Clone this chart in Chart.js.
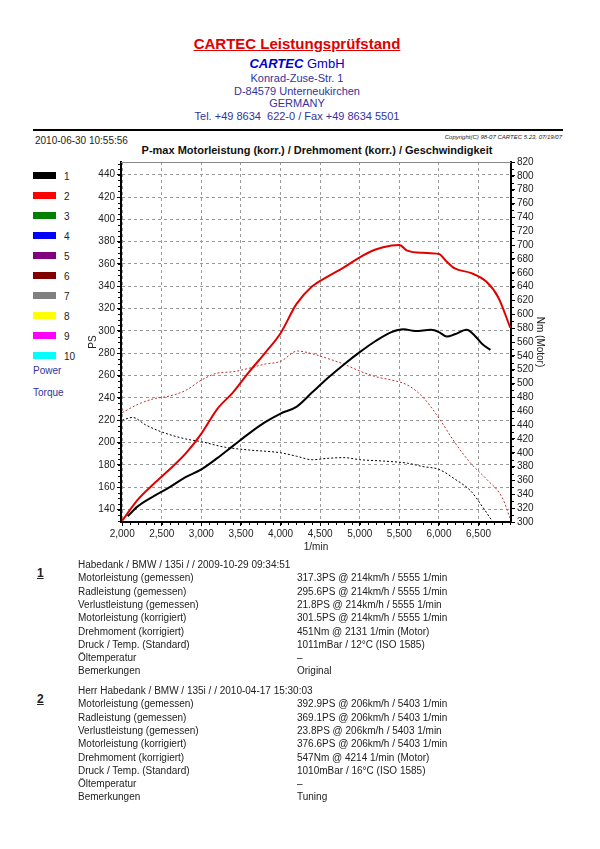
<!DOCTYPE html>
<html><head><meta charset="utf-8">
<script src="https://cdn.jsdelivr.net/npm/chart.js@4"></script>
<style>
html,body{margin:0;padding:0;background:#fff;}
body{width:600px;height:849px;position:relative;overflow:hidden;font-family:"Liberation Sans",Arial,sans-serif;color:#222;}
.a{position:absolute;white-space:nowrap;line-height:1;}
.c{left:0;width:594px;text-align:center;}
#wrap{position:absolute;left:0;top:150px;width:600px;height:410px;}
.lg{position:absolute;left:33px;width:23px;height:7px;}
.ln{position:absolute;left:64px;font-size:10px;color:#222;}
.tl{position:absolute;font-size:10px;color:#222;white-space:nowrap;line-height:1;}
</style></head><body>
<div class="a c" style="top:36px;font-size:15px;font-weight:bold;color:#e00000;text-decoration:underline;">CARTEC Leistungsprüfstand</div>
<div class="a c" style="top:57px;font-size:13px;color:#0000cc;"><b><i>CARTEC</i></b> GmbH</div>
<div class="a c" style="top:73px;font-size:11px;color:#3333a0;">Konrad-Zuse-Str. 1</div>
<div class="a c" style="top:86px;font-size:11px;color:#3333a0;">D-84579 Unterneukirchen</div>
<div class="a c" style="top:98px;font-size:11px;color:#3333a0;">GERMANY</div>
<div class="a c" style="top:111px;font-size:11px;color:#3333a0;">Tel. +49 8634&nbsp; 622-0 / Fax +49 8634 5501</div>
<div class="a" style="left:33px;top:129px;width:530px;height:2px;background:#000;"></div>
<div class="a" style="left:35px;top:136px;font-size:10px;">2010-06-30 10:55:56</div>
<div class="a" style="right:38px;top:134px;font-size:6px;font-style:italic;">Copyright(C) 98-07 CARTEC 5.23, 07/19/07</div>
<div class="a" style="left:122px;width:390px;text-align:center;top:145px;font-size:11px;font-weight:bold;color:#111;">P-max Motorleistung (korr.) / Drehmoment (korr.) / Geschwindigkeit</div>
<div id="legend"></div>
<div id="wrap"><canvas id="c"></canvas></div>
<div id="table"></div>
<script>
// ---- data ----
const rpm1    = [2070,2200,2400,2600,2800,3000,3200,3400,3600,3800,4000,4200,4400,4600,4800,5000,5200,5400,5555,5700,5900,6000,6100,6200,6350,6450,6550,6650];
const power1  = [134,143,152,160,169,176,186,197,208,218,226,232,245,258,270,281,291,299,301.5,300,301,299,295,297,301,296,288,283];
const rpmT1   = [2000,2131,2300,2500,2800,3000,3300,3600,4000,4200,4400,4600,4800,5000,5300,5600,5800,6000,6200,6400,6550,6680];
const torque1 = [447,451,440,430,420,416,408,404,400,395,390,392,393,390,388,385,380,376,362,345,322,300];
const rpm2    = [2000,2200,2400,2600,2800,3000,3200,3400,3600,3800,4000,4200,4400,4600,4800,5000,5200,5403,5500,5600,5800,6000,6100,6200,6400,6600,6750,6900];
const power2  = [130,149,163,176,190,208,230,245,263,280,298,324,340,349,357,366,373,376.6,377,372,370,369,362,356,352,344,330,303];
const rpmT2   = [2000,2200,2400,2600,2800,3000,3200,3400,3600,3800,4000,4214,4400,4600,4800,5000,5200,5400,5600,5800,6000,6200,6400,6600,6800,6900];
const torque2 = [458,470,478,482,490,505,515,517,522,528,532,547,543,536,528,518,510,505,498,480,450,415,385,362,335,305];
const xTicks  = [2000,2500,3000,3500,4000,4500,5000,5500,6000,6500];
const psTicks = [140,160,180,200,220,240,260,280,300,320,340,360,380,400,420,440];
const nmTicks = [300,320,340,360,380,400,420,440,460,480,500,520,540,560,580,600,620,640,660,680,700,720,740,760,780,800,820];
const legendNames  = ['1','2','3','4','5','6','7','8','9','10'];
const legendColors = ['#000000','#ff0000','#008000','#0000ff','#800080','#800000','#808080','#ffff00','#ff00ff','#00ffff'];
const rowLabels = ['Motorleistung (gemessen)','Radleistung (gemessen)','Verlustleistung (gemessen)','Motorleistung (korrigiert)','Drehmoment (korrigiert)','Druck / Temp. (Standard)','Öltemperatur','Bemerkungen'];
const run1Head = 'Habedank / BMW / 135i /  / 2009-10-29 09:34:51';
const run1Vals = ['317.3PS @ 214km/h / 5555 1/min','295.6PS @ 214km/h / 5555 1/min','21.8PS @ 214km/h / 5555 1/min','301.5PS @ 214km/h / 5555 1/min','451Nm @ 2131 1/min (Motor)','1011mBar / 12°C   (ISO 1585)','–','Original'];
const run2Head = 'Herr Habedank / BMW / 135i /  / 2010-04-17 15:30:03';
const run2Vals = ['392.9PS @ 206km/h / 5403 1/min','369.1PS @ 206km/h / 5403 1/min','23.8PS @ 206km/h / 5403 1/min','376.6PS @ 206km/h / 5403 1/min','547Nm @ 4214 1/min (Motor)','1010mBar / 16°C   (ISO 1585)','–','Tuning'];

// ---- legend ----
const lg = document.getElementById('legend');
legendNames.forEach((n,i)=>{
  const y = 172 + i*20;
  lg.insertAdjacentHTML('beforeend',`<div class="lg" style="top:${y}px;background:${legendColors[i]}"></div><div class="ln" style="top:${y-1}px">${n}</div>`);
});
lg.insertAdjacentHTML('beforeend',`<div class="a" style="left:33px;top:366px;font-size:10px;color:#333399">Power</div><div class="a" style="left:33px;top:388px;font-size:10px;color:#333399">Torque</div>`);

// ---- table ----
const tb = document.getElementById('table');
function block(num, head, vals, top){
  let h = `<div class="tl" style="left:37px;top:${top+7}px;font-size:12px;font-weight:bold;text-decoration:underline">${num}</div>`;
  h += `<div class="tl" style="left:78px;top:${top}px">${head}</div>`;
  rowLabels.forEach((l,i)=>{
    const y = top + 13.3*(i+1);
    h += `<div class="tl" style="left:78px;top:${y}px">${l}</div><div class="tl" style="left:297px;top:${y}px">${vals[i]}</div>`;
  });
  tb.insertAdjacentHTML('beforeend',h);
}
block('1', run1Head, run1Vals, 560);
block('2', run2Head, run2Vals, 686);

// ---- chart ----
const pts = (xs,ys)=>xs.map((x,i)=>({x:x,y:ys[i]}));
const F = {family:'"Liberation Sans", Arial, sans-serif', size:10};

const minorTicks = {
  id:'minorTicks',
  afterDraw(chart){
    const {ctx, chartArea:a, scales} = chart;
    ctx.save();
    ctx.strokeStyle='#000'; ctx.lineWidth=1;
    ctx.beginPath();
    const x = scales.x;
    for(let v=2000; v<=x.max; v+=100){ const p=Math.round(x.getPixelForValue(v))+0.5; ctx.moveTo(p,a.bottom); ctx.lineTo(p,a.bottom+3); }
    const yl = scales.yL;
    for(let v=130; v<=yl.max; v+=5){ const p=Math.round(yl.getPixelForValue(v))+0.5; ctx.moveTo(a.left,p); ctx.lineTo(a.left-3,p); }
    const yr = scales.yR;
    for(let v=300; v<=yr.max; v+=10){ const p=Math.round(yr.getPixelForValue(v))+0.5; ctx.moveTo(a.right,p); ctx.lineTo(a.right+3,p); }
    ctx.stroke();
    ctx.strokeStyle='#888'; ctx.lineWidth=1;
    ctx.beginPath(); ctx.moveTo(a.left,a.top+0.5); ctx.lineTo(a.right,a.top+0.5); ctx.stroke();
    ctx.restore();
  }
};

new Chart(document.getElementById('c'),{
  type:'line',
  data:{datasets:[
    {label:'1 Power', data:pts(rpm1,power1), yAxisID:'yL', borderColor:'#000', borderWidth:2},
    {label:'2 Power', data:pts(rpm2,power2), yAxisID:'yL', borderColor:'#e00000', borderWidth:2},
    {label:'1 Torque', data:pts(rpmT1,torque1), yAxisID:'yR', borderColor:'#000', borderWidth:1, borderDash:[2,2]},
    {label:'2 Torque', data:pts(rpmT2,torque2), yAxisID:'yR', borderColor:'#c03030', borderWidth:1, borderDash:[2,2]}
  ]},
  options:{
    responsive:true, maintainAspectRatio:false, animation:false,
    parsing:true,
    elements:{point:{radius:0}, line:{tension:0.35, cubicInterpolationMode:'monotone'}},
    layout:{padding:{left:80,right:50,top:12,bottom:0}},
    plugins:{legend:{display:false}, tooltip:{enabled:false}},
    scales:{
      x:{type:'linear', min:1985, max:6910,
        afterBuildTicks:s=>{s.ticks=xTicks.map(v=>({value:v}));},
        afterFit:s=>{s.height=38;},
        ticks:{font:F,color:'#222',padding:2,maxRotation:0,autoSkip:false,callback:v=>v.toLocaleString('en-US')},
        grid:{color:'#999',tickColor:'#000',tickLength:4,drawTicks:true},
        border:{color:'#000',width:2,dash:[3,3]},
        title:{display:true,text:'1/min',font:F,color:'#222',padding:{top:0,bottom:7}}
      },
      yL:{type:'linear', position:'left', min:128.8, max:451.4,
        afterBuildTicks:s=>{s.ticks=psTicks.map(v=>({value:v}));},
        afterFit:s=>{s.width=41;},
        ticks:{font:F,color:'#222',padding:2,autoSkip:false},
        grid:{color:'#999',tickColor:'#000',tickLength:4},
        border:{color:'#000',width:2,dash:[3,3]},
        title:{display:true,text:'PS',font:F,color:'#222',padding:{top:7,bottom:0}}
      },
      yR:{type:'linear', position:'right', min:300, max:820,
        afterBuildTicks:s=>{s.ticks=nmTicks.map(v=>({value:v}));},
        afterFit:s=>{s.width=39;},
        ticks:{font:F,color:'#222',padding:2,autoSkip:false},
        grid:{drawOnChartArea:false,tickColor:'#000',tickLength:4},
        border:{color:'#000',width:2},
        title:{display:true,text:'Nm (Motor)',font:F,color:'#222',padding:{top:4,bottom:0}}
      }
    }
  },
  plugins:[minorTicks]
});
</script>
</body></html>
